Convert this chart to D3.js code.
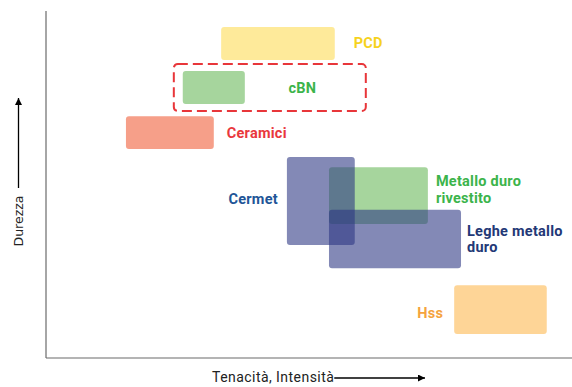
<!DOCTYPE html>
<html>
<head>
<meta charset="utf-8">
<script src="https://cdn.jsdelivr.net/npm/d3@7"></script>
<style>
  body { margin: 0; background: #fff; }
  svg { display: block; }
</style>
</head>
<body>
<svg id="chart" width="572" height="387"></svg>
<script>
// materials, toughness (x) and hardness (y) ranges in arbitrary units 0-100
var materials = ["Metallo duro rivestito", "PCD", "cBN", "Ceramici", "Cermet", "Leghe metallo duro", "Hss"];
var labelLines = [["Metallo duro", "rivestito"], ["PCD"], ["cBN"], ["Ceramici"], ["Cermet"], ["Leghe metallo", "duro"], ["Hss"]];
var toughMin = [53.8, 33.3, 26.0, 15.2, 45.8, 53.8, 77.6];
var toughMax = [72.6, 54.9, 37.8, 31.9, 58.7, 78.9, 95.2];
var hardMin = [38.6, 85.9, 73.2, 60.2, 32.6, 25.9, 6.9];
var hardMax = [55.0, 95.4, 82.7, 69.7, 57.9, 42.7, 21.0];

// highlighted group around cBN
var groupTough = [24.3, 60.8];
var groupHard = [71.2, 84.7];

var xTitle = "Tenacità, Intensità";
var yTitle = "Durezza";

// styles
var fills = {
  "PCD": "#feea9a", "cBN": "#a6d59d", "Ceramici": "#f69f89",
  "Cermet": "#2d3783", "Metallo duro rivestito": "#a6d59d",
  "Leghe metallo duro": "#2d3783", "Hss": "#fed597"
};
var opac = { "Cermet": 0.59, "Leghe metallo duro": 0.59 };
var textCol = {
  "PCD": "#f6d21e", "cBN": "#3cb44b", "Ceramici": "#e9383d",
  "Cermet": "#215597", "Metallo duro rivestito": "#3cb44b",
  "Leghe metallo duro": "#233876", "Hss": "#f5a33e"
};
// label placement: side of rect, horizontal gap, vertical shift
var labelPos = {
  "PCD": ["right", 19, 0], "cBN": ["group", -3, 0], "Ceramici": ["right", 13, 0],
  "Cermet": ["left", 9, -2], "Metallo duro rivestito": ["right", 8, -6],
  "Leghe metallo duro": ["right", 6, 0], "Hss": ["left", 11, 3]
};

var svg = d3.select("#chart"),
    margin = { top: 11, right: 0, bottom: 29, left: 46 },
    width = +svg.attr("width") - margin.left - margin.right,
    height = +svg.attr("height") - margin.top - margin.bottom,
    g = svg.append("g").attr("transform", "translate(" + margin.left + "," + margin.top + ")");

var x = d3.scaleLinear().domain([0, 100]).range([0, width]);
var y = d3.scaleLinear().domain([0, 100]).range([height, 0]);

var data = materials.map(function (m, i) {
  return { name: m, lines: labelLines[i], x0: toughMin[i], x1: toughMax[i], y0: hardMin[i], y1: hardMax[i] };
});

g.selectAll("rect.mat")
  .data(data)
  .enter().append("rect")
    .attr("class", "mat")
    .attr("x", function (d) { return x(d.x0); })
    .attr("y", function (d) { return y(d.y1); })
    .attr("width", function (d) { return x(d.x1) - x(d.x0); })
    .attr("height", function (d) { return y(d.y0) - y(d.y1); })
    .attr("rx", 3)
    .attr("fill", function (d) { return fills[d.name]; })
    .attr("fill-opacity", function (d) { return opac[d.name] || 1; });

g.append("rect")
    .attr("x", x(groupTough[0]))
    .attr("y", y(groupHard[1]))
    .attr("width", x(groupTough[1]) - x(groupTough[0]))
    .attr("height", y(groupHard[0]) - y(groupHard[1]))
    .attr("rx", 4)
    .attr("fill", "none")
    .attr("stroke", "#e8363a")
    .attr("stroke-width", 2)
    .attr("stroke-dasharray", "10,5");

var lh = 16.5;
var lab = g.selectAll("text.lab")
  .data(data)
  .enter().append("text")
    .attr("class", "lab")
    .attr("font-family", "Roboto, sans-serif")
    .attr("font-weight", "bold")
    .attr("font-size", 14.5)
    .attr("letter-spacing", 0.25)
    .attr("fill", function (d) { return textCol[d.name]; })
    .attr("text-anchor", function (d) { return labelPos[d.name][0] == "left" ? "end" : (labelPos[d.name][0] == "group" ? "middle" : "start"); })
    .attr("transform", function (d) {
      var p = labelPos[d.name], tx;
      if (p[0] == "right") tx = x(d.x1) + p[1];
      else if (p[0] == "left") tx = x(d.x0) - p[1];
      else tx = (x(d.x1) + x(groupTough[1])) / 2 + p[1];
      var ty = (y(d.y0) + y(d.y1)) / 2 + p[2] - (d.lines.length - 1) * lh / 2 + 5;
      return "translate(" + tx + "," + ty + ")";
    });

lab.selectAll("tspan")
  .data(function (d) { return d.lines; })
  .enter().append("tspan")
    .attr("x", 0)
    .attr("y", function (d, i) { return i * lh; })
    .text(function (d) { return d; });

// axes (no ticks)
g.append("line")
    .attr("x1", 0).attr("x2", 0).attr("y1", 0).attr("y2", height)
    .attr("stroke", "#6b6b6b").attr("stroke-width", 1.2);
g.append("line")
    .attr("x1", 0).attr("x2", width).attr("y1", height).attr("y2", height)
    .attr("stroke", "#6b6b6b").attr("stroke-width", 1.2);

svg.append("defs").append("marker")
    .attr("id", "arr")
    .attr("viewBox", "0 0 10 10")
    .attr("refX", 10).attr("refY", 5)
    .attr("markerWidth", 7).attr("markerHeight", 7)
    .attr("markerUnits", "userSpaceOnUse")
    .attr("orient", "auto")
  .append("path")
    .attr("d", "M0,0L10,5L0,10Z")
    .attr("fill", "#000");

// x title with arrow
var xt = svg.append("text")
    .attr("x", 212).attr("y", 382)
    .attr("font-family", "Roboto, sans-serif")
    .attr("font-size", 14)
    .attr("letter-spacing", 0.45)
    .attr("fill", "#222")
    .text(xTitle);
var xw = xt.node().getComputedTextLength();
svg.append("line")
    .attr("x1", 212 + xw).attr("x2", 425).attr("y1", 378).attr("y2", 378)
    .attr("stroke", "#000").attr("stroke-width", 1.3)
    .attr("marker-end", "url(#arr)");

// y title with arrow
svg.append("text")
    .attr("transform", "translate(23,221) rotate(-90)")
    .attr("text-anchor", "middle")
    .attr("font-family", "DejaVu Sans, sans-serif")
    .attr("font-size", 12.5)
    .attr("fill", "#222")
    .text(yTitle);
svg.append("line")
    .attr("x1", 18.5).attr("x2", 18.5).attr("y1", 188).attr("y2", 98)
    .attr("stroke", "#000").attr("stroke-width", 1.3)
    .attr("marker-end", "url(#arr)");
</script>
</body>
</html>
